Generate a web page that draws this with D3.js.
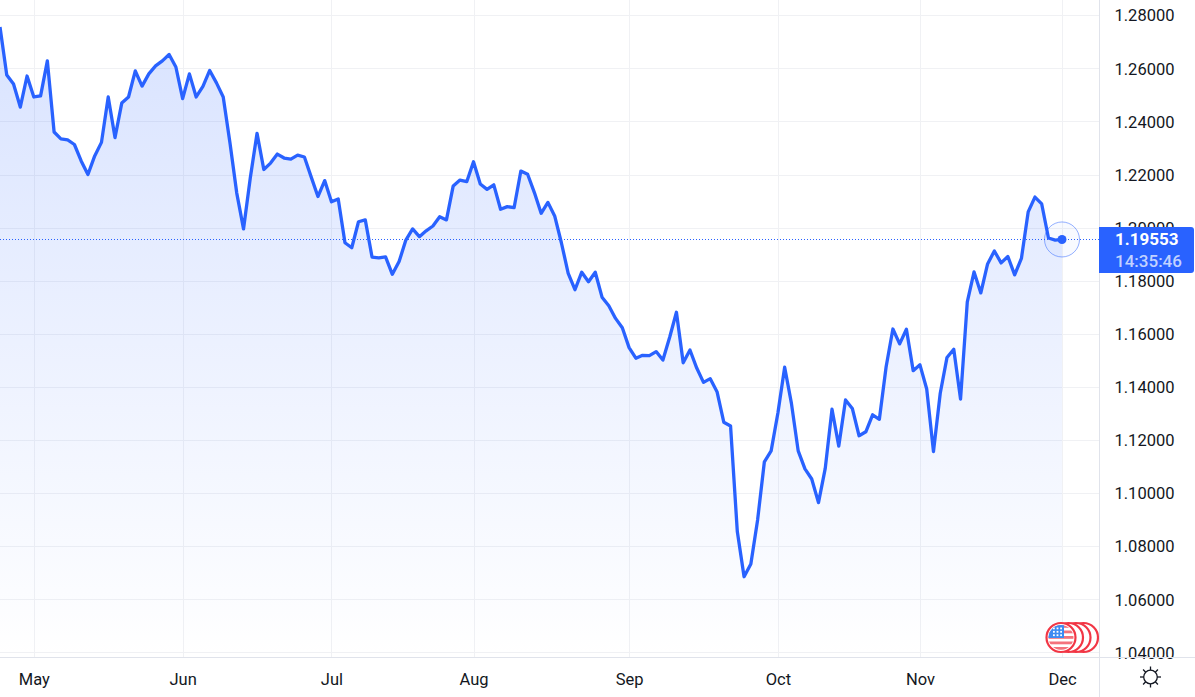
<!DOCTYPE html>
<html><head><meta charset="utf-8">
<script src="https://cdn.jsdelivr.net/npm/d3@7/dist/d3.min.js"></script>
<style>html,body{margin:0;padding:0;background:#fff;overflow:hidden}svg{display:block}text{font-family:Roboto,"Open Sans",sans-serif}</style>
</head><body><svg id="c" width="1195" height="697"></svg>
<script>
const closes = [1.2756,1.2575,1.2541,1.2454,1.2571,1.2492,1.2496,1.2628,1.2360,1.2334,1.2330,1.2313,1.2251,1.2200,1.2270,1.2321,1.2492,1.2339,1.2469,1.2492,
1.2590,1.2533,1.2579,1.2609,1.2628,1.2652,1.2605,1.2486,1.2579,1.2492,1.2532,1.2592,1.2545,1.2492,1.2319,1.2130,1.1995,1.2187,1.2355,1.2219,
1.2243,1.2277,1.2262,1.2258,1.2273,1.2266,1.2191,1.2117,1.2177,1.2097,1.2108,1.1943,1.1924,1.2022,1.2029,1.1889,1.1886,1.1890,1.1824,1.1872,
1.1953,1.1995,1.1966,1.1988,1.2006,1.2041,1.2029,1.2157,1.2179,1.2173,1.2248,1.2164,1.2144,1.2161,1.2069,1.2079,1.2075,1.2213,1.2201,1.2132,
1.2054,1.2095,1.2044,1.1942,1.1828,1.1766,1.1832,1.1796,1.1832,1.1738,1.1706,1.1658,1.1623,1.1548,1.1508,1.1519,1.1518,1.1533,1.1501,1.1587,
1.1681,1.1491,1.1539,1.1471,1.1417,1.1431,1.1382,1.1267,1.1253,1.0855,1.0685,1.0733,1.0899,1.1118,1.1159,1.1302,1.1474,1.1338,1.1159,1.1091,
1.1053,1.0964,1.1093,1.1316,1.1177,1.1351,1.1319,1.1216,1.1231,1.1295,1.1278,1.1476,1.1618,1.1562,1.1617,1.1461,1.1483,1.1392,1.1156,1.1376,
1.1511,1.1542,1.1354,1.1720,1.1833,1.1754,1.1863,1.1912,1.1867,1.1891,1.1822,1.1884,1.2059,1.2115,1.2089,1.1961,1.1953,1.19553];
const priceTicks = [1.28,1.26,1.24,1.22,1.20,1.18,1.16,1.14,1.12,1.10,1.08,1.06,1.04];
const monthLabels = ["May","Jun","Jul","Aug","Sep","Oct","Nov","Dec"];
const monthIndex = [5,27,49,70,93,115,136,157];
const lastPrice = "1.19553";
const countdown = "14:35:46";

const W=1195,H=697,plotR=1099,plotB=657;
const x=d3.scaleLinear().domain([0,157]).range([0,1062]);
const y=d3.scaleLinear().domain([1.28,1.04]).range([15.2,652.4]);
const svg=d3.select("#c");
const defs=svg.append("defs");
const g=defs.append("linearGradient").attr("id","fill").attr("gradientUnits","userSpaceOnUse").attr("x1",0).attr("x2",0).attr("y1",20).attr("y2",plotB);
g.append("stop").attr("offset",0).attr("stop-color","#2962ff").attr("stop-opacity",0.18);
g.append("stop").attr("offset",1).attr("stop-color","#2962ff").attr("stop-opacity",0.0);
defs.append("clipPath").attr("id","pc").append("rect").attr("width",plotR).attr("height",plotB);

const grid=svg.append("g");
grid.selectAll("line.h").data(priceTicks).join("line").attr("x1",0).attr("x2",plotR).attr("y1",d=>Math.round(y(d))+.5).attr("y2",d=>Math.round(y(d))+.5).attr("stroke","#f0f1f4");
grid.selectAll("line.v").data(monthIndex).join("line").attr("y1",0).attr("y2",plotB).attr("x1",d=>Math.round(x(d))+.5).attr("x2",d=>Math.round(x(d))+.5).attr("stroke","#f0f1f4");

const p=svg.append("g").attr("clip-path","url(#pc)");
p.append("path").datum(closes).attr("fill","url(#fill)").attr("d",d3.area().x((d,i)=>x(i)).y0(plotB).y1(d=>y(d)));
p.append("path").datum(closes).attr("fill","none").attr("stroke","#2962ff").attr("stroke-width",3.3).attr("stroke-linejoin","round").attr("d",d3.line().x((d,i)=>x(i)).y(d=>y(d)));

const lastV=closes[closes.length-1], lastX=x(closes.length-1), lastY=y(lastV);
p.append("line").attr("x1",0).attr("x2",plotR).attr("y1",Math.round(lastY)+.5).attr("y2",Math.round(lastY)+.5).attr("stroke","#2962ff").attr("stroke-width",1).attr("stroke-dasharray","1 2");
p.append("circle").attr("cx",lastX).attr("cy",lastY).attr("r",17.5).attr("fill","#2962ff").attr("fill-opacity",.03).attr("stroke","#2962ff").attr("stroke-opacity",.5).attr("stroke-width",1);
p.append("circle").attr("cx",lastX).attr("cy",lastY).attr("r",4.5).attr("fill","#2962ff");

// flag markers
const flagG=svg.append("g");
[1083.5,1076,1068.5].forEach(cx=>flagG.append("circle").attr("cx",cx).attr("cy",637.5).attr("r",14.5).attr("fill","#fff").attr("stroke","#f23645").attr("stroke-width",2.2));
defs.append("clipPath").attr("id","fl").append("circle").attr("cx",1061).attr("cy",637.5).attr("r",12.5);
flagG.append("circle").attr("cx",1061).attr("cy",637.5).attr("r",14.5).attr("fill","#fff").attr("stroke","#f23645").attr("stroke-width",2.2);
const fl=flagG.append("g").attr("clip-path","url(#fl)");
fl.append("rect").attr("x",1048).attr("y",624).attr("width",26).attr("height",27).attr("fill","#fff");
[625,630.5,636,641.5,647].forEach(yy=>fl.append("rect").attr("x",1048).attr("y",yy).attr("width",26).attr("height",2.8).attr("fill","#f4727c"));
fl.append("rect").attr("x",1048).attr("y",624).attr("width",16).attr("height",14).attr("fill","#3d8bf2");
for(let a=0;a<3;a++)for(let b=0;b<3;b++)fl.append("rect").attr("x",1053+a*3.6).attr("y",627.5+b*3.4).attr("width",1.8).attr("height",1.8).attr("fill","#fff");

// axes
svg.append("rect").attr("x",plotR).attr("y",0).attr("width",W-plotR).attr("height",plotB).attr("fill","#fff");
svg.append("rect").attr("x",0).attr("y",plotB).attr("width",W).attr("height",H-plotB).attr("fill","#fff");
const ay=svg.append("g").attr("transform",`translate(${plotR},0)`).call(d3.axisRight(y).tickValues(priceTicks).tickFormat(d3.format(".5f")).tickSize(0).tickPadding(15.5));
ay.select(".domain").remove();
ay.selectAll("text").attr("font-size",16.5).attr("fill","#131722").attr("dy","0.35em").attr("font-family","Roboto");
const ax=svg.append("g").attr("transform",`translate(0,${plotB})`).call(d3.axisBottom(x).tickValues(monthIndex).tickFormat((d,i)=>monthLabels[i]).tickSize(0).tickPadding(16));
ax.select(".domain").remove();
ax.selectAll("text").attr("font-size",16.5).attr("fill","#131722");
svg.append("line").attr("x1",0).attr("x2",W).attr("y1",plotB+.5).attr("y2",plotB+.5).attr("stroke","#e0e3eb");
svg.append("line").attr("x1",plotR+.5).attr("x2",plotR+.5).attr("y1",0).attr("y2",H).attr("stroke","#e0e3eb");

// price tag
svg.append("path").attr("d","M1099 227H1191a3 3 0 0 1 3 3V270a3 3 0 0 1 -3 3H1099Z").attr("fill","#2962ff");
svg.append("text").attr("x",1115).attr("y",245).attr("font-size",17).attr("font-weight",700).attr("fill","#fff").text(lastPrice);
svg.append("text").attr("x",1115).attr("y",266.5).attr("font-size",17).attr("font-weight",500).attr("fill","#fff").attr("fill-opacity",.72).text(countdown);

// sun icon
const sun=svg.append("g").attr("transform","translate(1150.5,677)").attr("fill","none").attr("stroke","#131722").attr("stroke-width",1.3);
sun.append("circle").attr("r",6.8);
d3.range(8).forEach(k=>{const a=k*Math.PI/4;sun.append("line").attr("x1",6.8*Math.cos(a)).attr("y1",6.8*Math.sin(a)).attr("x2",10.5*Math.cos(a)).attr("y2",10.5*Math.sin(a));});
</script></body></html>
